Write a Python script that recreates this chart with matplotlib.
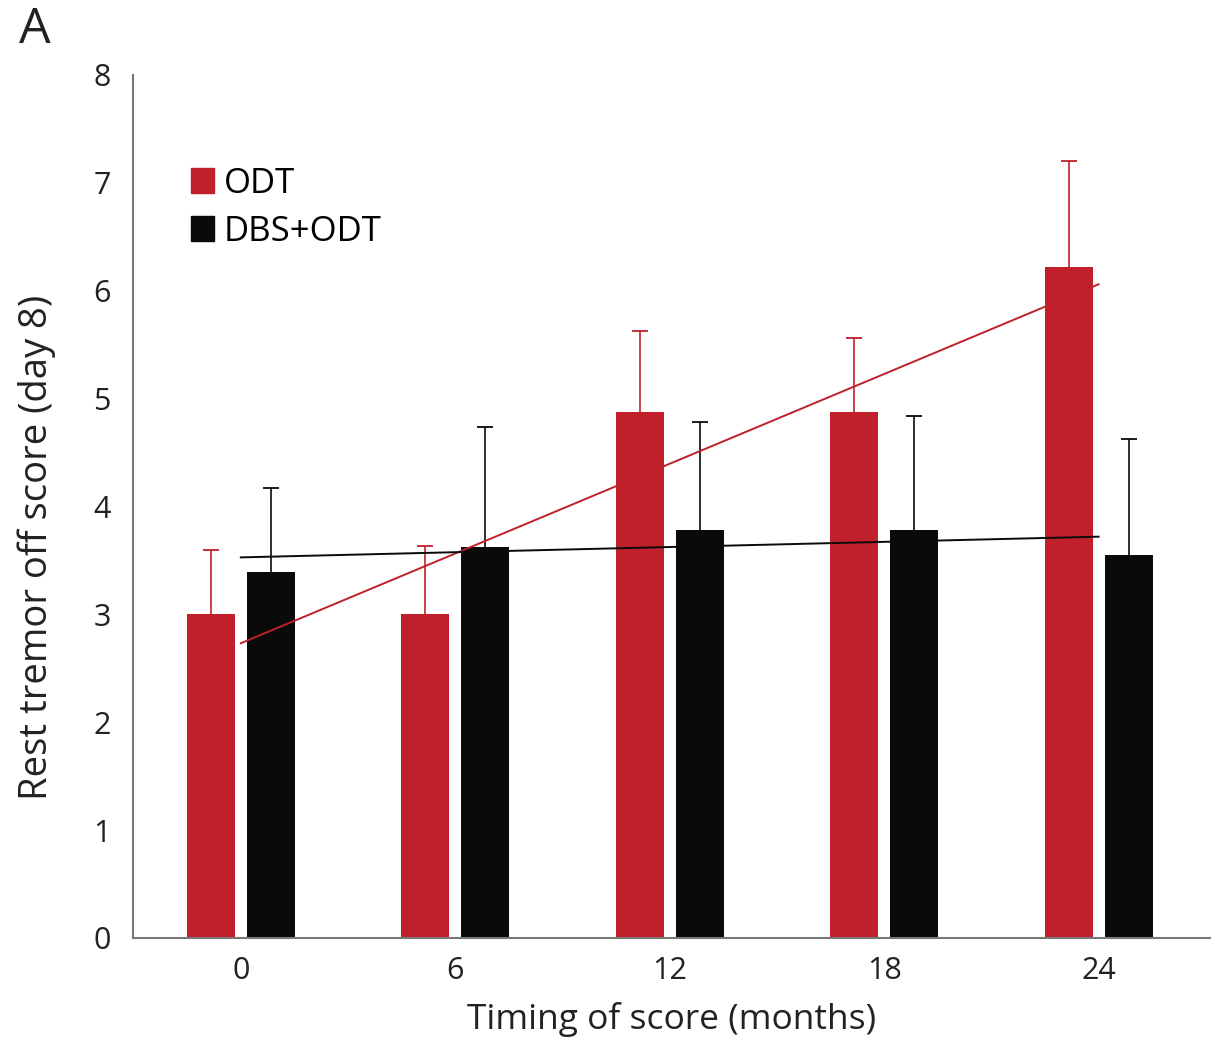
import numpy as np
import matplotlib.pyplot as plt
from matplotlib.patches import Patch

# data
months = ['0', '6', '12', '18', '24']
odt = [3.0, 3.0, 4.88, 4.88, 6.22]
odt_err = [0.6, 0.63, 0.75, 0.68, 0.98]
dbs = [3.39, 3.62, 3.78, 3.78, 3.55]
dbs_err = [0.78, 1.12, 1.0, 1.06, 1.08]

red = '#c0202a'
black = '#0a0a0a'
plt.rcParams['font.family'] = ['Open Sans', 'DejaVu Sans']

fig = plt.figure(figsize=(12.13, 10.46), dpi=100)
ax = fig.add_axes([0.1096, 0.1033, 0.888, 0.825])

x = np.arange(len(months))
w = 0.224
for off, vals, err, c in [(-0.14, odt, odt_err, red), (0.14, dbs, dbs_err, black)]:
    bars = ax.bar(x + off, vals, w, color=c, yerr=[np.zeros(5), err],
                  error_kw=dict(ecolor=c, elinewidth=1.2, capsize=6, capthick=1.3))
    # only the upper cap, no cap sitting on the bar top
    bars.errorbar.lines[1][0].set_visible(False)

# linear trend lines
for vals, c in [(odt, red), (dbs, black)]:
    k, b = np.polyfit(x, vals, 1)
    ax.plot(x, k * x + b, color=c, lw=1.4)

ax.set_xlim(-0.503, 4.52)
ax.set_ylim(0, 8)
ax.set_xticks(x)
ax.set_xticklabels(months)
ax.set_yticks(range(9))
ax.tick_params(length=0, labelsize=22, colors='#222222', pad=13)
ax.tick_params(axis='y', pad=16)
for s in ['top', 'right']:
    ax.spines[s].set_visible(False)
for s in ['left', 'bottom']:
    ax.spines[s].set_color('#777777')
    ax.spines[s].set_linewidth(1.5)

ax.set_xlabel('Timing of score (months)', fontsize=25.5, color='#222222', va='center')
ax.xaxis.set_label_coords(0.5, -0.095)
ax.set_ylabel('Rest tremor off score (day 8)', fontsize=27.5, color='#222222', va='center')
ax.yaxis.set_label_coords(-0.089, 0.453)

handles = [Patch(color=red, label='ODT'), Patch(color=black, label='DBS+ODT')]
ax.legend(handles=handles, loc='upper left', bbox_to_anchor=(0.025, 0.93),
          frameon=False, fontsize=25, handlelength=0.65, handleheight=0.75,
          handletextpad=0.3, labelspacing=0.4)

fig.text(0.016, 0.971, 'A', fontsize=36, color='#222222', va='center')

fig.savefig('out.png', dpi=100)
